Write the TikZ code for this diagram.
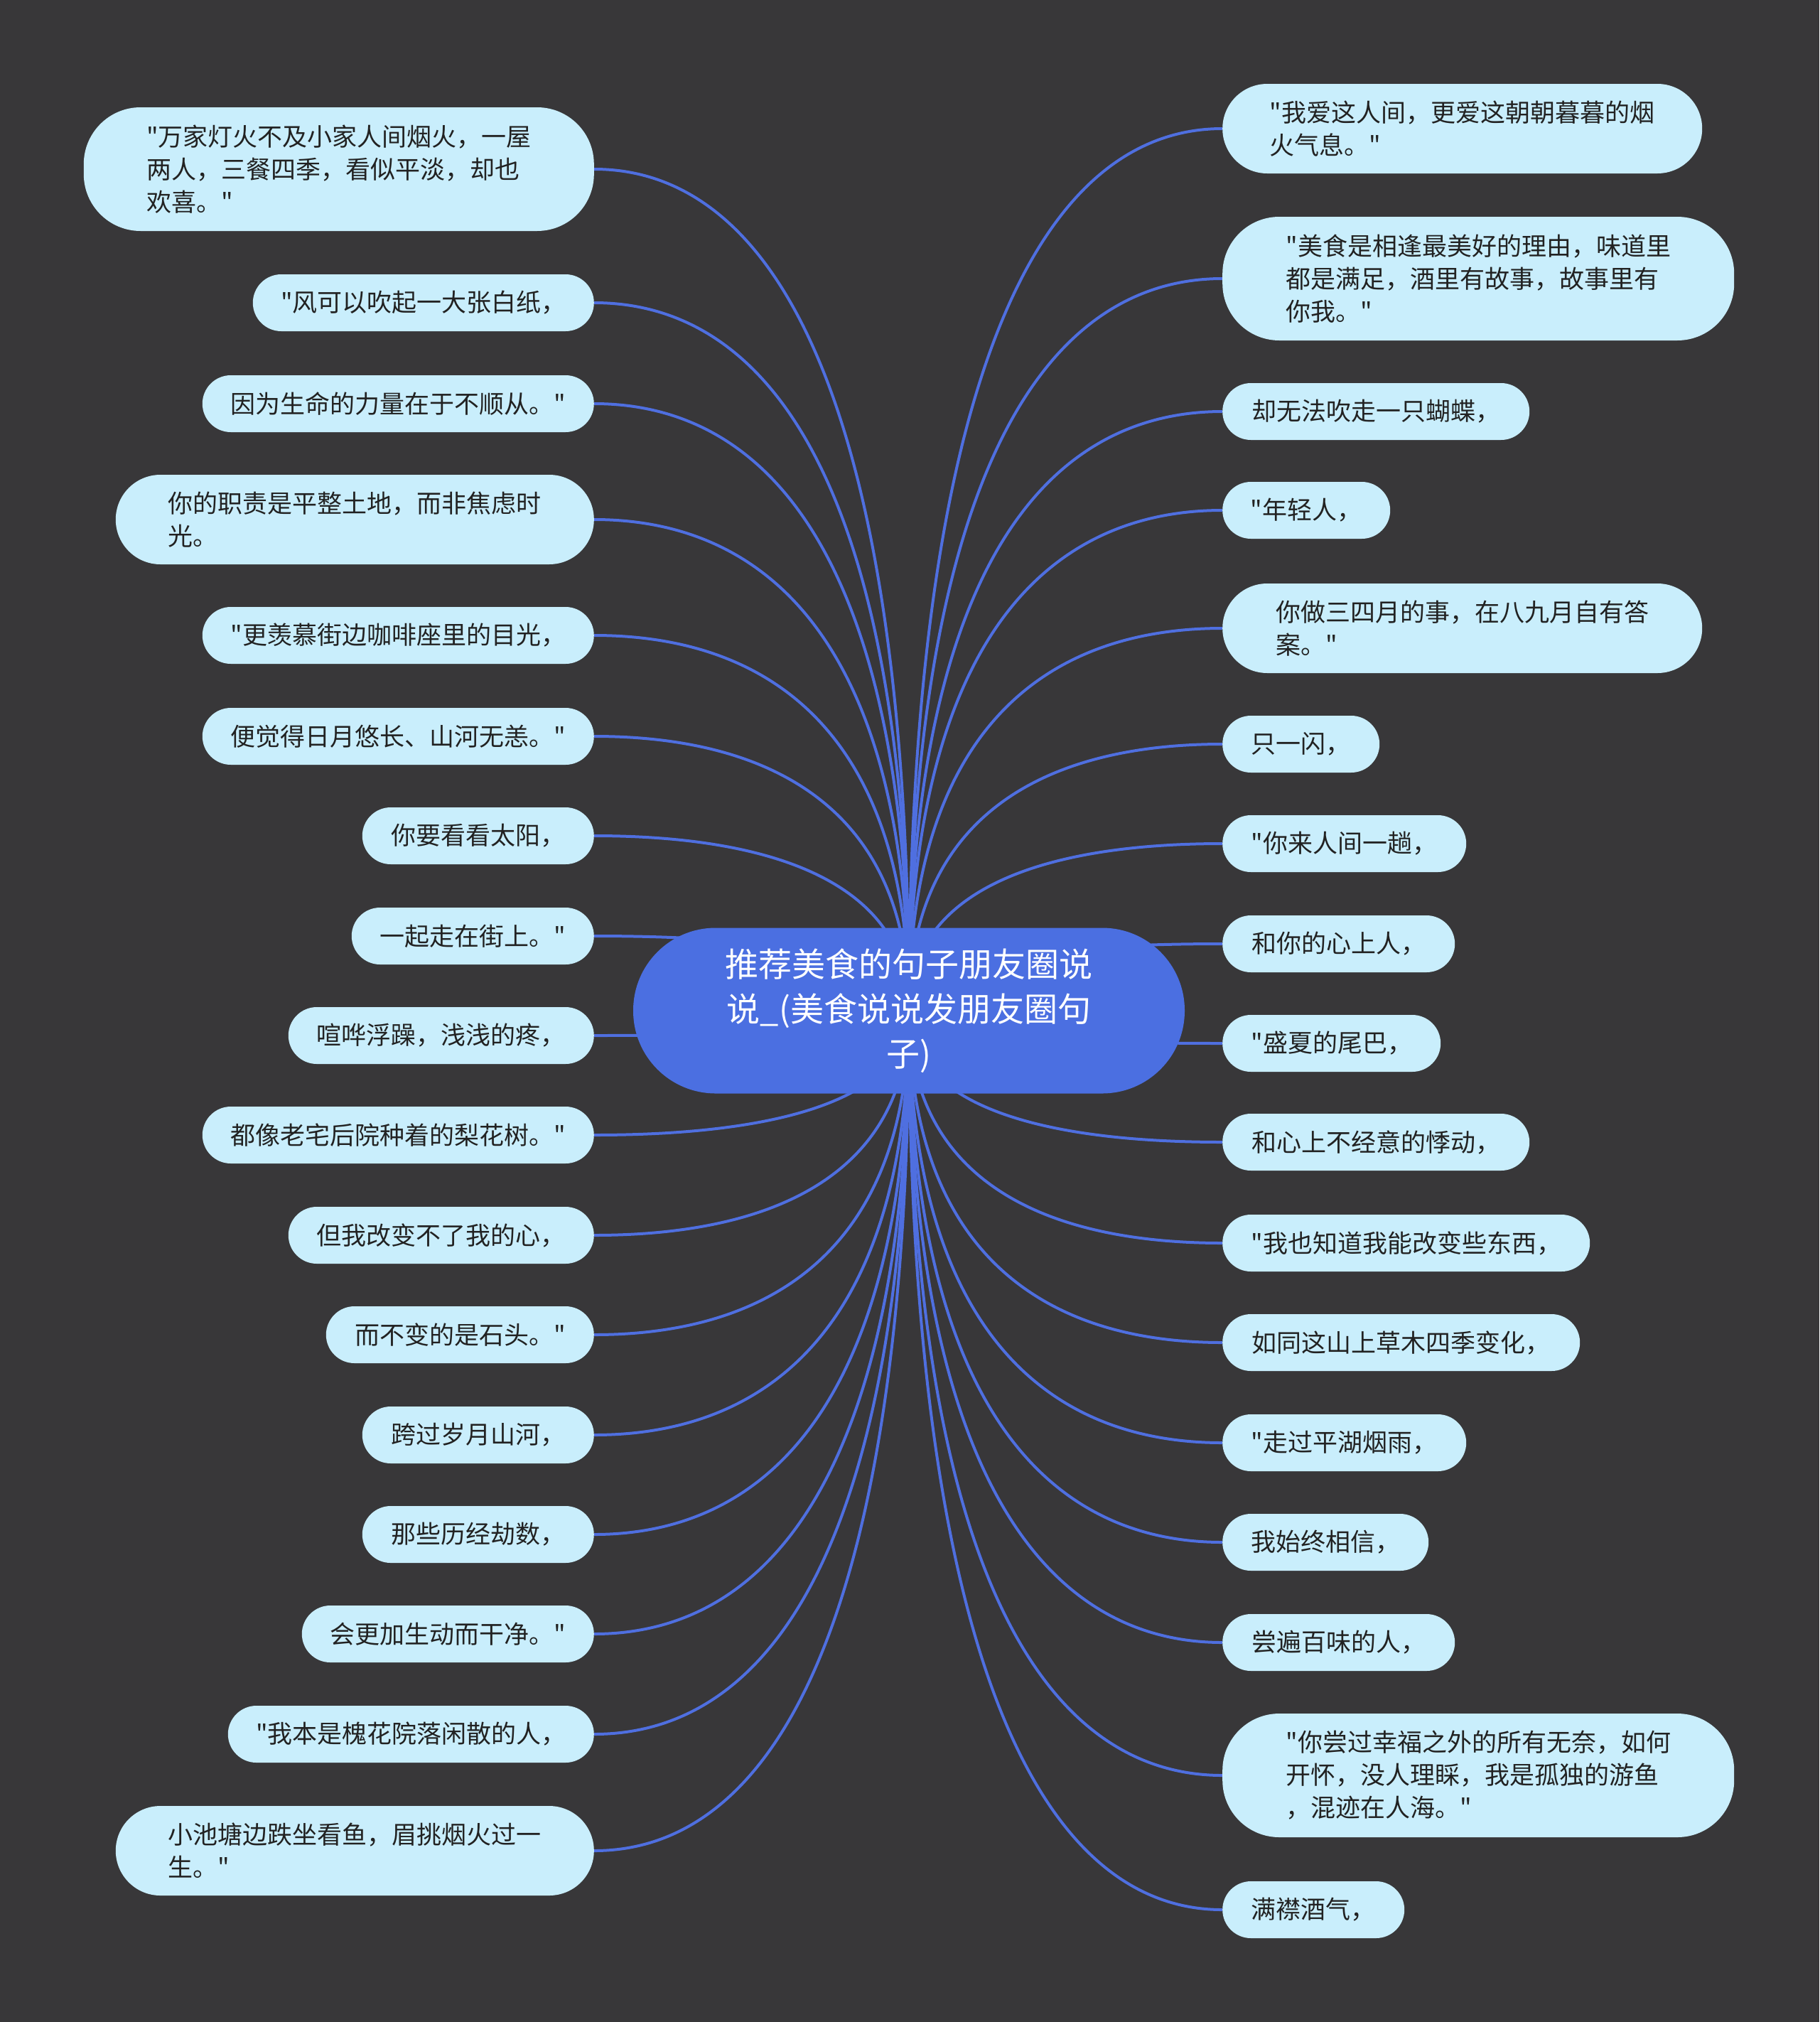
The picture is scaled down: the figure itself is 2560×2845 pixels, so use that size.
\documentclass[tikz,border=0pt]{standalone}
\usepackage{fontspec}
\setmainfont{Noto Sans CJK SC}[Ligatures=TeXOff]
\definecolor{bgc}{HTML}{383739}
\definecolor{hub}{HTML}{4B6FE1}
\definecolor{leaffill}{HTML}{C9EEFC}
\definecolor{leaftext}{HTML}{222222}
\definecolor{linkc}{HTML}{4F6FE0}
\pgfdeclarelayer{back}
\pgfdeclarelayer{lines}
\pgfsetlayers{back,lines,main}
\newcommand\lnkL[2]{\draw[link] (hc.center) .. controls (1279,{0.7*#2+426.6}) and (1102,#2) .. (#1.east);}
\newcommand\lnkR[2]{\draw[link] (hc.center) .. controls (1279,{0.7*#2+426.6}) and (1455,#2) .. (#1.west);}
\begin{document}
\begin{tikzpicture}[x=1pt,y=-1pt,
 leaf/.style={draw=none, fill=leaffill, text=leaftext, inner sep=0pt, font=\fontsize{35}{46}\selectfont, align=left},
 one/.style={leaf, minimum height=80pt, rounded corners=40pt},
 two/.style={leaf, minimum height=126pt, rounded corners=63pt},
 three/.style={leaf, minimum height=174pt, rounded corners=80pt},
 hubnode/.style={fill=hub, text=white, inner sep=0pt, minimum width=776pt, minimum height=233pt, rounded corners=116pt, font=\fontsize{47}{63}\selectfont, align=center},
 link/.style={draw=linkc, line width=4pt}]
\begin{pgfonlayer}{back}
\fill[bgc] (0,0) rectangle (2560,2845);
\end{pgfonlayer}
\useasboundingbox (0,0) rectangle (2560,2845);

\node[hubnode] (hc) at (1279,1422) {推荐美食的句子朋友圈说\\说\_(美食说说发朋友圈句\\子)};

% left
\node[three, anchor=east, minimum width=718pt] (l1) at (836,238) {"万家灯火不及小家人间烟火，一屋\\两人，三餐四季，看似平淡，却也\\欢喜。"};
\node[one, anchor=east, minimum width=480pt] (l2) at (836,426) {"风可以吹起一大张白纸，};
\node[one, anchor=east, minimum width=551pt] (l3) at (836,568) {因为生命的力量在于不顺从。"};
\node[two, anchor=east, minimum width=673pt] (l4) at (836,731) {你的职责是平整土地，而非焦虑时\\光。};
\node[one, anchor=east, minimum width=551pt] (l5) at (836,894) {"更羡慕街边咖啡座里的目光，};
\node[one, anchor=east, minimum width=551pt] (l6) at (836,1036) {便觉得日月悠长、山河无恙。"};
\node[one, anchor=east, minimum width=326pt] (l7) at (836,1176) {你要看看太阳，};
\node[one, anchor=east, minimum width=341pt] (l8) at (836,1317) {一起走在街上。"};
\node[one, anchor=east, minimum width=430pt] (l9) at (836,1457) {喧哗浮躁，浅浅的疼，};
\node[one, anchor=east, minimum width=551pt] (l10) at (836,1597) {都像老宅后院种着的梨花树。"};
\node[one, anchor=east, minimum width=430pt] (l11) at (836,1738) {但我改变不了我的心，};
\node[one, anchor=east, minimum width=377pt] (l12) at (836,1878) {而不变的是石头。"};
\node[one, anchor=east, minimum width=326pt] (l13) at (836,2019) {跨过岁月山河，};
\node[one, anchor=east, minimum width=326pt] (l14) at (836,2159) {那些历经劫数，};
\node[one, anchor=east, minimum width=411pt] (l15) at (836,2299) {会更加生动而干净。"};
\node[one, anchor=east, minimum width=515pt] (l16) at (836,2440) {"我本是槐花院落闲散的人，};
\node[two, anchor=east, minimum width=673pt] (l17) at (836,2604) {小池塘边跌坐看鱼，眉挑烟火过一\\生。"};

% right
\node[two, anchor=west, minimum width=675pt] (r1) at (1720,181) {"我爱这人间，更爱这朝朝暮暮的烟\\火气息。"};
\node[three, anchor=west, minimum width=720pt] (r2) at (1720,392) {"美食是相逢最美好的理由，味道里\\都是满足，酒里有故事，故事里有\\你我。"};
\node[one, anchor=west, minimum width=432pt] (r3) at (1720,579) {却无法吹走一只蝴蝶，};
\node[one, anchor=west, minimum width=236pt] (r4) at (1720,718) {"年轻人，};
\node[two, anchor=west, minimum width=675pt] (r5) at (1720,884) {你做三四月的事，在八九月自有答\\案。"};
\node[one, anchor=west, minimum width=221pt] (r6) at (1720,1047) {只一闪，};
\node[one, anchor=west, minimum width=343pt] (r7) at (1720,1187) {"你来人间一趟，};
\node[one, anchor=west, minimum width=327pt] (r8) at (1720,1328) {和你的心上人，};
\node[one, anchor=west, minimum width=307pt] (r9) at (1720,1468) {"盛夏的尾巴，};
\node[one, anchor=west, minimum width=432pt] (r10) at (1720,1607) {和心上不经意的悸动，};
\node[one, anchor=west, minimum width=517pt] (r11) at (1720,1749) {"我也知道我能改变些东西，};
\node[one, anchor=west, minimum width=503pt] (r12) at (1720,1889) {如同这山上草木四季变化，};
\node[one, anchor=west, minimum width=343pt] (r13) at (1720,2030) {"走过平湖烟雨，};
\node[one, anchor=west, minimum width=290pt] (r14) at (1720,2170) {我始终相信，};
\node[one, anchor=west, minimum width=327pt] (r15) at (1720,2311) {尝遍百味的人，};
\node[three, anchor=west, minimum width=720pt] (r16) at (1720,2498) {"你尝过幸福之外的所有无奈，如何\\开怀，没人理睬，我是孤独的游鱼\\，混迹在人海。"};
\node[one, anchor=west, minimum width=256pt] (r17) at (1720,2687) {满襟酒气，};

\begin{pgfonlayer}{lines}
\lnkL{l1}{238}\lnkL{l2}{426}\lnkL{l3}{568}\lnkL{l4}{731}\lnkL{l5}{894}
\lnkL{l6}{1036}\lnkL{l7}{1176}\lnkL{l8}{1317}\lnkL{l9}{1457}\lnkL{l10}{1597}
\lnkL{l11}{1738}\lnkL{l12}{1878}\lnkL{l13}{2019}\lnkL{l14}{2159}\lnkL{l15}{2299}
\lnkL{l16}{2440}\lnkL{l17}{2604}
\lnkR{r1}{181}\lnkR{r2}{392}\lnkR{r3}{579}\lnkR{r4}{718}\lnkR{r5}{884}
\lnkR{r6}{1047}\lnkR{r7}{1187}\lnkR{r8}{1328}\lnkR{r9}{1468}\lnkR{r10}{1607}
\lnkR{r11}{1749}\lnkR{r12}{1889}\lnkR{r13}{2030}\lnkR{r14}{2170}\lnkR{r15}{2311}
\lnkR{r16}{2498}\lnkR{r17}{2687}
\end{pgfonlayer}
\end{tikzpicture}
\end{document}
